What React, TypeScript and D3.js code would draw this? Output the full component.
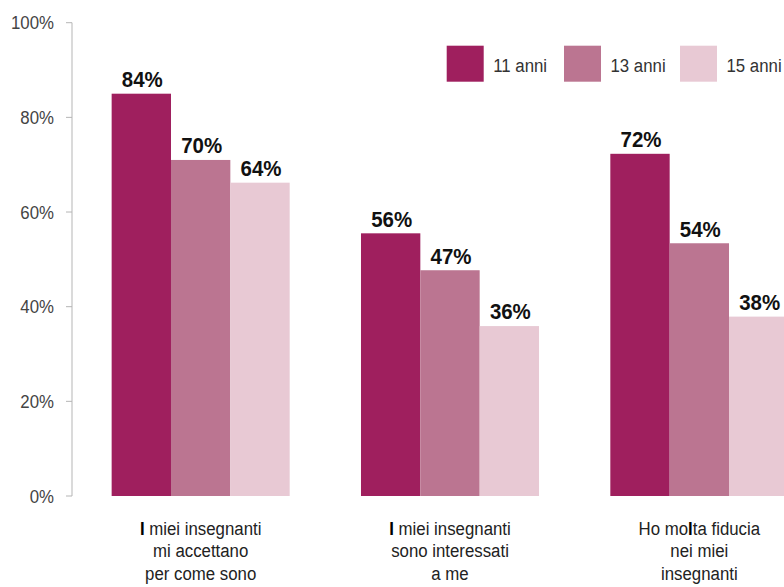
import React from "react";
import * as d3 from "d3";

const categories = [
  ["I miei insegnanti", "mi accettano", "per come sono"],
  ["I miei insegnanti", "sono interessati", "a me"],
  ["Ho molta fiducia", "nei miei", "insegnanti"],
];
const seriesNames = ["11 anni", "13 anni", "15 anni"];
const values11 = [85, 55.5, 72.3];
const values13 = [71, 47.7, 53.4];
const values15 = [66.2, 35.9, 37.9];
const labels11 = ["84%", "56%", "72%"];
const labels13 = ["70%", "47%", "54%"];
const labels15 = ["64%", "36%", "38%"];
const yTicks = [0, 20, 40, 60, 80, 100];
const colors = ["#9f1f5e", "#bb7591", "#e8c9d4"];

const W = 784;
const H = 587;
const FONT = "'Liberation Sans', Arial, sans-serif";
const SX = 0.885;

// render a line with the odd bold glyph of the original ("I" / "l")
function renderLine(ln: string) {
  if (ln.startsWith("I ")) {
    return [
      <tspan key="b" fontWeight="bold" fill="#000">I</tspan>,
      <tspan key="r">{ln.slice(1)}</tspan>,
    ];
  }
  const idx = ln.indexOf("molta");
  if (idx >= 0) {
    return [
      <tspan key="a">{ln.slice(0, idx + 2)}</tspan>,
      <tspan key="b" fontWeight="bold" fill="#000">l</tspan>,
      <tspan key="c">{ln.slice(idx + 3)}</tspan>,
    ];
  }
  return ln;
}

export default function App() {
  const series = [values11, values13, values15];
  const labels = [labels11, labels13, labels15];
  const y = d3.scaleLinear().domain([0, 100]).range([496, 22.7]);
  const x0 = d3
    .scaleBand<number>()
    .domain(categories.map((_, i) => i))
    .range([72, 828])
    .paddingInner(0.286)
    .paddingOuter(0.159);
  const x1 = d3
    .scaleBand<number>()
    .domain(seriesNames.map((_, i) => i))
    .range([0, x0.bandwidth()]);

  return (
    <svg
      width={W}
      height={H}
      style={{ position: "absolute", left: 0, top: 0, display: "block", background: "#fff" }}
      fontFamily={FONT}
    >
      {/* y axis */}
      <line x1={72} x2={72} y1={y(100)} y2={y(0)} stroke="#b5b5b5" strokeWidth={1} />
      {yTicks.map((t) => (
        <g key={t}>
          <line x1={66} x2={72} y1={y(t)} y2={y(t)} stroke="#b5b5b5" strokeWidth={1} />
          <text
            transform={`translate(54,${y(t) + 6.5}) scale(${SX},1)`}
            textAnchor="end"
            fontSize={19}
            fill="#444"
          >
            {t}%
          </text>
        </g>
      ))}
      {/* bars */}
      {categories.map((_, ci) =>
        series.map((vals, si) => {
          const bx = x0(ci)! + x1(si)!;
          return (
            <g key={`${ci}-${si}`}>
              <rect
                x={bx}
                y={y(vals[ci])}
                width={x1.bandwidth()}
                height={y(0) - y(vals[ci])}
                fill={colors[si]}
              />
              <text
                transform={`translate(${bx + x1.bandwidth() / 2 + 1},${y(vals[ci]) - 6.6}) scale(0.93,1)`}
                textAnchor="middle"
                fontSize={22}
                fontWeight="bold"
                fill="#111"
              >
                {labels[si][ci]}
              </text>
            </g>
          );
        })
      )}
      {/* category labels */}
      {categories.map((lines, ci) => {
        const cx = x0(ci)! + x0.bandwidth() / 2;
        return (
          <g key={ci} transform={`translate(${cx},0) scale(${SX},1)`}>
            <text textAnchor="middle" fontSize={19} fill="#222">
              {lines.map((ln, li) => (
                <tspan key={li} x={0} y={535 + li * 22.5}>
                  {renderLine(ln)}
                </tspan>
              ))}
            </text>
          </g>
        );
      })}
      {/* legend */}
      {seriesNames.map((name, si) => {
        const lx = [446.7, 564, 680][si];
        return (
          <g key={name}>
            <rect x={lx} y={45.7} width={37} height={36} fill={colors[si]} />
            <text
              transform={`translate(${lx + 46.5},71.7) scale(${SX},1)`}
              fontSize={19}
              fill="#333"
            >
              {name}
            </text>
          </g>
        );
      })}
    </svg>
  );
}
